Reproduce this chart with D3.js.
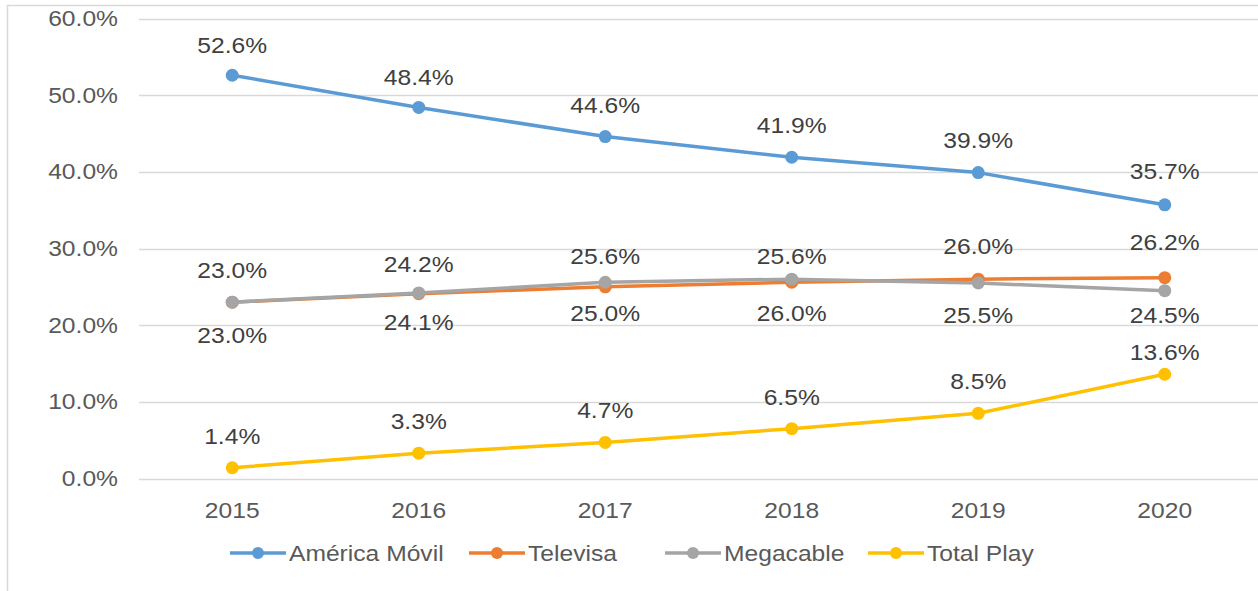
<!DOCTYPE html>
<html>
<head>
<meta charset="utf-8">
<script src="https://cdn.jsdelivr.net/npm/d3@7"></script>
<style>
  html, body { margin: 0; padding: 0; background: #fff; }
  svg { display: block; }
  text { font-family: "Liberation Sans", Arial, sans-serif; }
</style>
</head>
<body>
<svg id="chart" width="1258" height="591"></svg>
<script>
const years = ["2015", "2016", "2017", "2018", "2019", "2020"];
const yTicks = [0, 10, 20, 30, 40, 50, 60];
const americaMovil = [52.6, 48.4, 44.6, 41.9, 39.9, 35.7];
const televisa = [23.0, 24.1, 25.0, 25.6, 26.0, 26.2];
const megacable = [23.0, 24.2, 25.6, 26.0, 25.5, 24.5];
const totalPlay = [1.4, 3.3, 4.7, 6.5, 8.5, 13.6];
const seriesNames = ["América Móvil", "Televisa", "Megacable", "Total Play"];
// data-label vertical offsets from each point (px; negative = above)
const labelOffAM = [-30, -30, -31, -32, -32, -33];
const labelOffTV = [33, 29, 26, -26, -33, -35];
const labelOffMC = [-32, -29, -26, 34, 32, 25];
const labelOffTP = [-31, -32, -32, -31, -32, -22];

const colors = ["#5b9bd5", "#ed7d31", "#a5a5a5", "#ffc000"];
const series = [
  { name: seriesNames[0], values: americaMovil, off: labelOffAM, color: colors[0] },
  { name: seriesNames[1], values: televisa, off: labelOffTV, color: colors[1] },
  { name: seriesNames[2], values: megacable, off: labelOffMC, color: colors[2] },
  { name: seriesNames[3], values: totalPlay, off: labelOffTP, color: colors[3] }
];

const svg = d3.select("#chart");
const fs = 22;
const stretch = 1.12;
const plotLeft = 139, plotRight = 1258, plotTop = 18.5, plotBottom = 478.5;

function widen(sel) {
  sel.each(function () {
    const t = d3.select(this);
    const tx = +t.attr("x") || 0, ty = +t.attr("y") || 0;
    t.attr("transform", `translate(${tx},${ty}) scale(${stretch},1) translate(${-tx},${-ty})`);
  });
}

// outer chart border
svg.append("path")
  .attr("d", "M7.5,591 V5.5 H1258")
  .attr("fill", "none").attr("stroke", "#d9d9d9").attr("stroke-width", 1.5);

const x = d3.scaleBand().domain(years).range([plotLeft, plotRight]);
const y = d3.scaleLinear().domain([0, 60]).range([plotBottom, plotTop]);

// gridlines
svg.append("g").selectAll("line").data(yTicks).join("line")
  .attr("x1", plotLeft).attr("x2", plotRight)
  .attr("y1", d => Math.round(y(d)) + 0.5).attr("y2", d => Math.round(y(d)) + 0.5)
  .attr("stroke", "#d9d9d9").attr("stroke-width", 1.5);

// y axis labels
const yAxis = d3.axisLeft(y).tickValues(yTicks).tickSize(0).tickPadding(0)
  .tickFormat(d => d.toFixed(1) + "%");
const gy = svg.append("g").attr("transform", `translate(118,0)`).call(yAxis);
gy.select(".domain").remove();
gy.selectAll("text").attr("font-size", fs).attr("fill", "#595959")
  .attr("font-family", "Liberation Sans, Arial, sans-serif").call(widen);

// x axis labels
const xAxis = d3.axisBottom(x).tickSize(0).tickPadding(0);
const gx = svg.append("g").attr("transform", `translate(0,${plotBottom + 24})`).call(xAxis);
gx.select(".domain").remove();
gx.selectAll("text").attr("font-size", fs).attr("fill", "#595959")
  .attr("font-family", "Liberation Sans, Arial, sans-serif").call(widen);

const cx = d => x(d) + x.bandwidth() / 2;
const line = d3.line().x((d, i) => cx(years[i])).y(d => y(d));

series.forEach(s => {
  const g = svg.append("g");
  g.append("path").datum(s.values).attr("d", line)
    .attr("fill", "none").attr("stroke", s.color).attr("stroke-width", 3.5)
    .attr("stroke-linejoin", "round").attr("stroke-linecap", "round");
  g.selectAll("circle").data(s.values).join("circle")
    .attr("cx", (d, i) => cx(years[i])).attr("cy", d => y(d)).attr("r", 6.5)
    .attr("fill", s.color);
});

// data labels
series.forEach(s => {
  svg.append("g").selectAll("text").data(s.values).join("text")
    .attr("x", (d, i) => cx(years[i]))
    .attr("y", (d, i) => y(d) + s.off[i])
    .attr("dy", "0.35em")
    .attr("text-anchor", "middle").attr("font-size", fs).attr("fill", "#404040")
    .text(d => d.toFixed(1) + "%")
    .call(widen);
});

// legend
const legendX = [230, 469, 665, 868];
const legendY = 553;
const lg = svg.append("g");
series.forEach((s, i) => {
  const g = lg.append("g").attr("transform", `translate(${legendX[i]},${legendY})`);
  g.append("line").attr("x1", 0).attr("x2", 56).attr("y1", 0).attr("y2", 0)
    .attr("stroke", s.color).attr("stroke-width", 3.5);
  g.append("circle").attr("cx", 28).attr("cy", 0).attr("r", 6).attr("fill", s.color);
  g.append("text").attr("x", 59).attr("y", 0).attr("dy", "0.35em")
    .attr("font-size", fs).attr("fill", "#595959").text(s.name).call(widen);
});
</script>
</body>
</html>
